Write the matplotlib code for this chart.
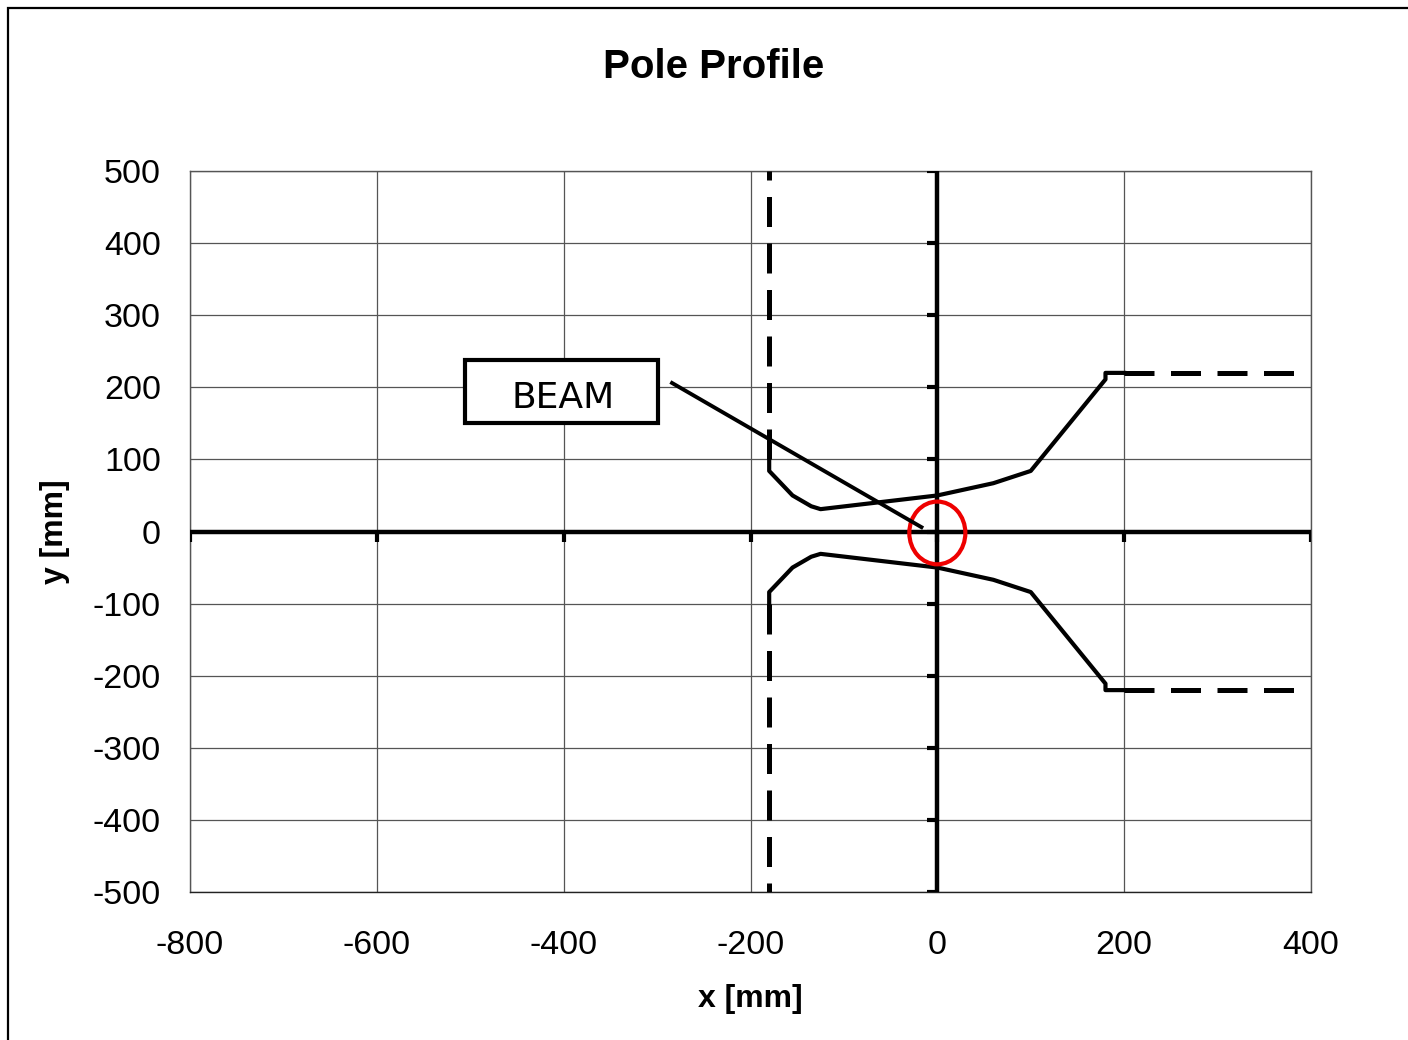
import matplotlib
matplotlib.use("Agg")
import matplotlib.pyplot as plt
from matplotlib.patches import Rectangle, Ellipse
import numpy as np

plt.rcParams['font.family'] = ['Liberation Sans', 'DejaVu Sans']
plt.rcParams['axes.unicode_minus'] = False

# pole profile, upper and lower half (mm)
pole_x = [-180, -180, -155, -135, -125, 0, 60, 100, 180, 180, 200]
pole_y_up = [100, 84, 50, 35, 31, 50, 67, 84, 211, 220, 220]
pole_y_low = [-100, -84, -50, -35, -31, -50, -67, -84, -211, -220, -220]

# dashed continuations
side_x = [-180, -180]
side_y_up = [100, 500]
side_y_low = [-100, -500]
flat_x = [200, 385]
flat_y_up = [220, 220]
flat_y_low = [-220, -220]

# beam annotation
beam_box = (-506, 150, 207, 88)   # x, y, w, h
beam_text_xy = (-401, 185)
beam_line_x = [-284, -17]
beam_line_y = [206, 6]
beam_center = (0, -2)
beam_size = (60, 87)

xticks = list(range(-800, 401, 200))
yticks = list(range(-500, 501, 100))

fig = plt.figure(figsize=(14.08, 10.4), dpi=100)
ax = fig.add_axes([190/1408, 1-892/1040, (1311-190)/1408, (892-171)/1040])

ax.set_xlim(-800, 400)
ax.set_ylim(-500, 500)
ax.set_xticks(xticks)
ax.set_yticks(yticks)
ax.tick_params(length=0, labelsize=24.5)
ax.tick_params(axis='x', pad=27)
ax.tick_params(axis='y', pad=21)
ax.grid(True, color='#555555', lw=0.9)
ax.set_axisbelow(True)
for s in ax.spines.values():
    s.set_color('#555555')
    s.set_linewidth(1.0)
ax.spines['bottom'].set_color('#222222')

# axis lines through the origin with their own tick marks
ax.plot([-800, 400], [0, 0], color='black', lw=3.2, solid_capstyle='butt', zorder=3)
ax.plot([0, 0], [-500, 500], color='black', lw=3.2, solid_capstyle='butt', zorder=3)
for t in xticks:
    ax.plot([t, t], [0, -15], color='black', lw=3.0, solid_capstyle='butt', zorder=3)
for t in yticks:
    ax.plot([0, -11], [t, t], color='black', lw=3.0, solid_capstyle='butt', zorder=3)

# pole profile
ax.plot(pole_x, pole_y_up, color='black', lw=3.0, zorder=4)
ax.plot(pole_x, pole_y_low, color='black', lw=3.0, zorder=4)
for xs, ys in [(side_x, side_y_up), (side_x, side_y_low), (flat_x, flat_y_up), (flat_x, flat_y_low)]:
    ax.plot(xs, ys, color='black', lw=3.6, dashes=(6, 3.3), dash_capstyle='butt', zorder=4)

# beam
ax.add_patch(Ellipse(beam_center, beam_size[0], beam_size[1], fill=False,
                     edgecolor='#ee0000', lw=3.0, zorder=5))
ax.plot(beam_line_x, beam_line_y, color='black', lw=2.8, zorder=5)
ax.add_patch(Rectangle(beam_box[:2], beam_box[2], beam_box[3], facecolor='white',
                       edgecolor='black', lw=3.0, zorder=6))
ax.text(beam_text_xy[0], beam_text_xy[1], 'BEAM', family='DejaVu Sans', fontsize=26,
        ha='center', va='center', zorder=7)

fig.text(714/1408, 1-78/1040, 'Pole Profile', fontsize=29, fontweight='bold',
         ha='center', va='baseline')
fig.text(750/1408, 1-999/1040, 'x [mm]', fontsize=23, fontweight='bold',
         ha='center', va='center')
fig.text(55/1408, 1-532/1040, 'y [mm]', fontsize=23, fontweight='bold',
         ha='center', va='center', rotation=90)

# outer chart frame
fig.add_artist(Rectangle((8/1408, -0.1), 1.2, 0.1 + 1 - 8/1040, fill=False,
                         edgecolor='black', lw=1.6, transform=fig.transFigure))

fig.savefig('out.png', dpi=100)
